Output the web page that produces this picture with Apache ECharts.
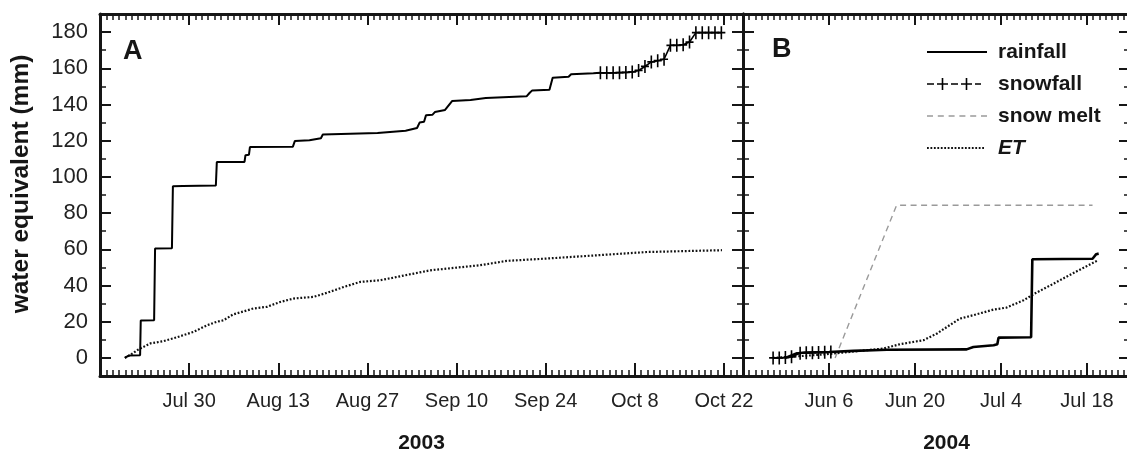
<!DOCTYPE html>
<html>
<head>
<meta charset="utf-8">
<title>Cumulative water equivalent, 2003 and 2004</title>
<script src="https://cdn.jsdelivr.net/npm/echarts@6/dist/echarts.min.js"></script>
<style>
  html, body { margin: 0; padding: 0; background: #fff; }
  #chart { width: 1127px; height: 457px; }
</style>
</head>
<body>
<div id="chart"></div>
<script>
// ---- Axis ranges and tick labels -------------------------------------------
const origin2003 = '2003-07-16';
const end2003 = '2003-10-25';
const origin2004 = '2004-05-23';
const end2004 = '2004-07-25';

const tickDates2003 = ['2003-07-30', '2003-08-13', '2003-08-27', '2003-09-10', '2003-09-24', '2003-10-08', '2003-10-22'];
const tickLabels2003 = ['Jul 30', 'Aug 13', 'Aug 27', 'Sep 10', 'Sep 24', 'Oct 8', 'Oct 22'];
const tickDates2004 = ['2004-06-06', '2004-06-20', '2004-07-04', '2004-07-18'];
const tickLabels2004 = ['Jun 6', 'Jun 20', 'Jul 4', 'Jul 18'];

const yMin = -10;
const yMax = 190;
const yMajorTicks = [0, 20, 40, 60, 80, 100, 120, 140, 160, 180];
const yMinorTicks = [10, 30, 50, 70, 90, 110, 130, 150, 170];

// ---- Cumulative series (x: days since the panel origin, y: mm) ------------
// 2003 (panel A)
const rainfall2003Day = [3.9, 4.5, 6.3, 6.4, 8.5, 8.65, 11.3, 11.45, 13, 18.2, 18.35, 22.7, 22.85, 23.4, 23.55, 30.3, 30.6, 32.9, 33.1, 34.7, 35, 43.6, 43.9, 48, 48.3, 49.8, 50.2, 50.9, 51.2, 52.2, 52.6, 54.2, 55.3, 58.2, 58.5, 60.6, 60.9, 67, 67.5, 67.9, 70.6, 71.1, 73.6, 74, 77.5, 78.6];
const rainfall2003Mm = [0, 1.3, 1.5, 20.6, 20.8, 60.4, 60.6, 94.8, 95, 95.3, 108.2, 108.3, 112, 112.3, 116.5, 116.7, 119.8, 120.2, 121.2, 121.4, 123.4, 124.2, 125.3, 125.5, 126.5, 127, 130, 130.5, 134, 134.3, 135.8, 137, 141.9, 142.5, 143.4, 143.6, 144.1, 144.5, 146.5, 147.8, 148.2, 154.8, 155.3, 156.7, 157.2, 157.5];

const snowfall2003Day = [78.6, 79.6, 80.6, 81.6, 82.6, 83.6, 84.6, 85.6, 86.6, 87.6, 88.6, 89.6, 90.6, 91.6, 92.6, 93.6, 94.6, 95.6, 96.6, 97.6];
const snowfall2003Mm = [157.5, 157.5, 157.5, 157.6, 157.7, 158.0, 158.8, 161.0, 163.5, 164.2, 165.0, 172.7, 172.7, 173.0, 174.5, 179.7, 179.7, 179.7, 179.7, 179.7];

const et2003Day = [3.9, 4.7, 6.0, 7.9, 9.9, 12.0, 14.7, 16.8, 18.3, 19.4, 20.9, 24.1, 26.2, 28.3, 30.4, 33.5, 35.6, 38.3, 40.9, 44.0, 46.6, 49.3, 51.9, 59.7, 63.9, 70.2, 78.1, 85.9, 97.7];
const et2003Mm = [0, 1.5, 4.6, 8.0, 9.2, 11.3, 14.4, 18.0, 19.9, 20.8, 24.0, 27.3, 28.2, 30.9, 32.8, 33.7, 35.9, 39.2, 42.0, 42.9, 44.7, 46.6, 48.4, 51.2, 53.6, 54.9, 56.7, 58.5, 59.5];

// 2004 (panel B)
const rainfall2004Day = [6.9, 8.7, 10.0, 14.0, 18.0, 23.4, 36.4, 37.5, 40.8, 41.4, 41.6, 46.9, 47.1, 56.9, 57.5, 57.9];
const rainfall2004Mm = [0, 2.4, 3.0, 3.3, 3.9, 4.5, 4.7, 6.0, 7.0, 7.6, 11.2, 11.4, 54.5, 54.8, 57.3, 57.6];

const snowfall2004Day = [4.9, 5.9, 6.9, 7.9, 9.3, 10.3, 11.3, 12.3, 13.3, 14.3];
const snowfall2004Mm = [0, 0, 0.2, 0.6, 2.6, 2.8, 2.9, 3.0, 3.1, 3.2];

const snowmelt2004Day = [15.0, 25.0, 56.9];
const snowmelt2004Mm = [0, 84.3, 84.3];

const et2004Day = [4.9, 7.7, 13.1, 17.4, 22.9, 25.6, 29.4, 31.6, 33.2, 35.3, 37.5, 40.8, 42.9, 45.7, 47.3, 50.6, 53.8, 57.6];
const et2004Mm = [0, 0.6, 1.9, 3.3, 5.2, 7.6, 9.8, 13.5, 17.1, 21.7, 23.6, 26.7, 27.8, 31.9, 35.2, 41.1, 46.9, 53.6];

// ---- Helpers ----------------------------------------------------------------
const FONT = '"Liberation Sans", Arial, Helvetica, sans-serif';
const INK = '#161616';

function dayOf(origin, iso) {
  return Math.round((Date.parse(iso + 'T00:00:00Z') - Date.parse(origin + 'T00:00:00Z')) / 864e5);
}
function pairs(days, mm) {
  return days.map((d, i) => [d, mm[i]]);
}

// "+" marker used for snowfall
const PLUS = 'path://M3.2,0H4.8V12H3.2Z M0,5.2H8V6.8H0Z';

// Legend sample shapes (60 x 12 boxes)
function rectPath(x0, y0, x1, y1) {
  return 'M' + x0 + ',' + y0 + 'H' + x1 + 'V' + y1 + 'H' + x0 + 'Z';
}
const iconRain = 'path://' + rectPath(0, 5, 60, 7) + ' M0,0L0,0Z M0,12L0,12Z';
const iconSnow = 'path://' + [
  rectPath(0, 5.2, 7, 6.8),
  rectPath(10, 5.2, 21, 6.8), rectPath(14.7, 0, 16.3, 12),
  rectPath(24, 5.2, 31, 6.8),
  rectPath(34, 5.2, 45, 6.8), rectPath(38.7, 0, 40.3, 12),
  rectPath(48, 5.2, 54, 6.8)
].join(' ') + ' M60,0L60,0Z';
const iconMelt = 'path://' + (function () {
  const parts = [];
  for (let x = 0; x < 60; x += 10.8) parts.push(rectPath(x, 5.3, Math.min(x + 6, 60), 6.7));
  return parts.join(' ');
})() + ' M0,0L0,0Z M60,12L60,12Z';
const iconET = 'path://' + (function () {
  const parts = [];
  for (let x = 0; x + 1.8 <= 60; x += 3.45) parts.push(rectPath(x, 5.1, x + 1.8, 6.9));
  return parts.join(' ');
})() + ' M0,0L0,0Z M60,12L60,12Z';

// ---- Axes ---------------------------------------------------------------------
function xAxesFor(g, span, tickDays, tickText, year, yearShift) {
  const daily = [];
  for (let d = 1; d < span; d++) daily.push(d);
  const base = {
    type: 'value', gridIndex: g, min: 0, max: span,
    splitLine: { show: false },
    axisLine: { show: false, onZero: false },
    axisLabel: { show: false },
    axisTick: { show: false }
  };
  const frameLine = { show: true, onZero: false, lineStyle: { color: INK, width: 3 } };
  return [
    Object.assign({}, base, {
      position: 'bottom',
      axisLine: frameLine,
      axisTick: { show: true, inside: true, length: 13, customValues: tickDays, lineStyle: { color: INK, width: 2 } },
      axisLabel: {
        show: true, customValues: tickDays, margin: 15,
        fontFamily: FONT, fontSize: 20, color: '#222',
        formatter: v => tickText[tickDays.indexOf(Math.round(v))] || ''
      },
      name: year, nameLocation: 'middle', nameGap: 57,
      nameTextStyle: { fontFamily: FONT, fontSize: 21, fontWeight: 'bold', color: INK, padding: [0, 0, 0, yearShift] }
    }),
    Object.assign({}, base, {
      position: 'bottom',
      axisTick: { show: true, inside: true, length: 6, customValues: daily, lineStyle: { color: INK, width: 1.5 } }
    }),
    Object.assign({}, base, {
      position: 'top',
      axisLine: frameLine,
      axisTick: { show: true, inside: true, length: 11, customValues: tickDays, lineStyle: { color: INK, width: 2 } }
    }),
    Object.assign({}, base, {
      position: 'top',
      axisTick: { show: true, inside: true, length: 6, customValues: daily, lineStyle: { color: INK, width: 1.5 } }
    })
  ];
}

function yAxesFor(g, withLabels) {
  const base = {
    type: 'value', gridIndex: g, min: yMin, max: yMax,
    splitLine: { show: false },
    axisLine: { show: false, onZero: false },
    axisLabel: { show: false },
    axisTick: { show: false }
  };
  const frameLine = { show: true, onZero: false, lineStyle: { color: INK, width: 3 } };
  const out = [];
  ['left', 'right'].forEach(pos => {
    out.push(Object.assign({}, base, {
      position: pos,
      axisLine: frameLine,
      axisTick: { show: true, inside: true, length: 11, customValues: yMajorTicks, lineStyle: { color: INK, width: 2 } },
      axisLabel: (pos === 'left' && withLabels)
        ? { show: true, customValues: yMajorTicks, margin: 12, fontFamily: FONT, fontSize: 22, color: '#222' }
        : { show: false }
    }));
    out.push(Object.assign({}, base, {
      position: pos,
      axisTick: { show: true, inside: true, length: 6, customValues: yMinorTicks, lineStyle: { color: INK, width: 1.5 } }
    }));
  });
  return out;
}

const span2003 = dayOf(origin2003, end2003);
const span2004 = dayOf(origin2004, end2004);
const ticks2003 = tickDates2003.map(d => dayOf(origin2003, d));
const ticks2004 = tickDates2004.map(d => dayOf(origin2004, d));

// ---- Series -------------------------------------------------------------------
function rainSeries(days, mm, axis, width) {
  return {
    name: 'rainfall', type: 'line', xAxisIndex: axis, yAxisIndex: axis,
    data: pairs(days, mm), symbol: 'none', color: '#000',
    lineStyle: { color: '#000', width: width }, z: 4
  };
}
function snowSeries(days, mm, axis) {
  return {
    name: 'snowfall', type: 'line', xAxisIndex: axis, yAxisIndex: axis,
    data: pairs(days, mm), symbol: PLUS, symbolSize: [8, 13], showAllSymbol: true,
    color: '#000', itemStyle: { color: '#000', borderWidth: 0 },
    lineStyle: { color: '#000', width: 1.6 }, z: 5
  };
}
function etSeries(days, mm, axis) {
  return {
    name: 'ET', type: 'line', xAxisIndex: axis, yAxisIndex: axis,
    data: pairs(days, mm), symbol: 'none', color: '#111',
    lineStyle: { color: '#111', width: 2.2, type: [1.8, 1.8] }, z: 3
  };
}

const option = {
  animation: false,
  backgroundColor: '#fff',
  textStyle: { fontFamily: FONT },
  grid: [
    { left: 100, top: 14, width: 643, height: 362, containLabel: false, outerBoundsMode: 'none' },
    { left: 743, top: 14, width: 387, height: 362, containLabel: false, outerBoundsMode: 'none' }
  ],
  xAxis: [].concat(
    xAxesFor(0, span2003, ticks2003, tickLabels2003, '2003', 0),
    xAxesFor(1, span2004, ticks2004, tickLabels2004, '2004', 20)
  ),
  yAxis: [].concat(yAxesFor(0, true), yAxesFor(1, false)),
  legend: {
    orient: 'vertical', left: 927, top: 41, padding: 0,
    itemGap: 10, itemWidth: 60, itemHeight: 12,
    symbolKeepAspect: true, selectedMode: false,
    itemStyle: { borderWidth: 0 },
    textStyle: { fontFamily: FONT, fontSize: 21, fontWeight: 'bold', color: INK, lineHeight: 22, padding: [0, 0, 0, 6] },
    data: [
      { name: 'rainfall', icon: iconRain },
      { name: 'snowfall', icon: iconSnow },
      { name: 'snow melt', icon: iconMelt },
      { name: 'ET', icon: iconET, textStyle: { fontStyle: 'italic' } }
    ]
  },
  graphic: [
    {
      type: 'text', x: 21, y: 184, rotation: Math.PI / 2,
      style: { text: 'water equivalent (mm)', fontFamily: FONT, fontSize: 24.5, fontWeight: 'bold', fill: INK, align: 'center', verticalAlign: 'middle' }
    },
    {
      type: 'text', x: 123, y: 52,
      style: { text: 'A', fontFamily: FONT, fontSize: 27, fontWeight: 'bold', fill: INK, align: 'left', verticalAlign: 'middle' }
    },
    {
      type: 'text', x: 772, y: 50,
      style: { text: 'B', fontFamily: FONT, fontSize: 27, fontWeight: 'bold', fill: INK, align: 'left', verticalAlign: 'middle' }
    }
  ],
  series: [
    rainSeries(rainfall2003Day, rainfall2003Mm, 0, 2),
    snowSeries(snowfall2003Day, snowfall2003Mm, 0),
    etSeries(et2003Day, et2003Mm, 0),
    rainSeries(rainfall2004Day, rainfall2004Mm, 4, 2.6),
    snowSeries(snowfall2004Day, snowfall2004Mm, 4),
    {
      name: 'snow melt', type: 'line', xAxisIndex: 4, yAxisIndex: 4,
      data: pairs(snowmelt2004Day, snowmelt2004Mm), symbol: 'none', color: '#9a9a9a',
      lineStyle: { color: '#9a9a9a', width: 1.4, type: [6, 4.5] }, z: 2
    },
    etSeries(et2004Day, et2004Mm, 4)
  ]
};

const chart = echarts.init(document.getElementById('chart'), null, { renderer: 'canvas' });
chart.setOption(option);
</script>
</body>
</html>
